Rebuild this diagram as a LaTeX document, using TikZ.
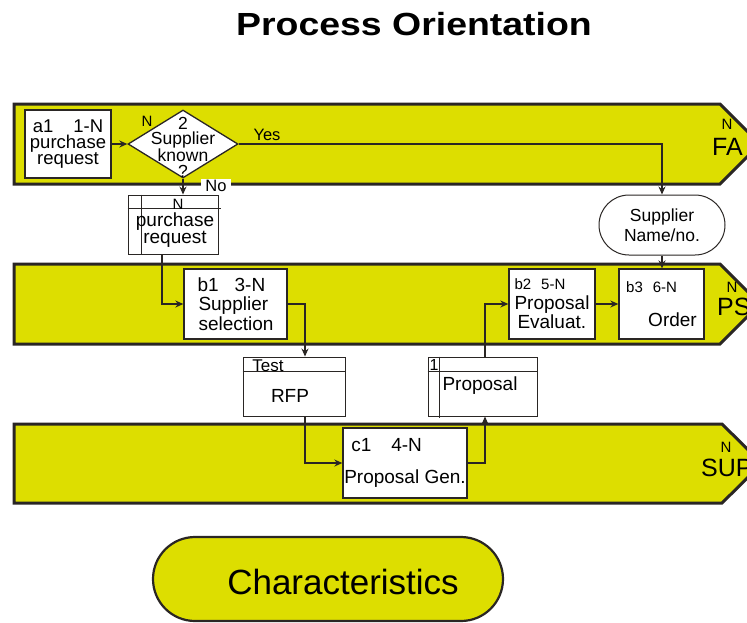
\documentclass[tikz,border=0pt]{standalone}
\usepackage{fontspec}
\setmainfont{Liberation Sans}
\newfontfamily\titlefont[FakeStretch=1.17]{Liberation Sans}
\usepackage{tikz}
\usetikzlibrary{shapes.geometric,shapes.misc,arrows.meta}
\definecolor{laneyellow}{RGB}{221,222,0}
\definecolor{edgegray}{RGB}{42,38,36}

\begin{document}
\begin{tikzpicture}[x=1pt,y=-1pt,
	lane/.style={fill=laneyellow,draw=edgegray,line width=3pt},
	func/.style={draw=edgegray,fill=white,line width=1.3pt,inner sep=0pt,align=center,font=\fontsize{19}{19.5}\selectfont},
	docbox/.style={draw=edgegray,fill=white,line width=0.9pt,inner sep=0pt},
	txt/.style={inner sep=0pt,align=center,font=\fontsize{19}{19.5}\selectfont},
	small/.style={inner sep=0pt,font=\fontsize{15}{16}\selectfont},
	lanename/.style={inner sep=0pt,anchor=west,font=\fontsize{25}{25}\selectfont},
	flow/.style={draw=edgegray,line width=1.4pt,-{Stealth[length=8pt,width=7pt]}}]

	\useasboundingbox (0,0) rectangle (747,622);
	\clip (0,0) rectangle (747,622);

	\node[inner sep=0pt,font={\fontsize{32}{34}\titlefont\bfseries}] (title) at (414,24) {Process Orientation};

	\draw[lane] (14,104) -- (720,104) -- (760,144) -- (720,184) -- (14,184) -- cycle;
	\draw[lane] (14,264) -- (720,264) -- (760,304) -- (720,344) -- (14,344) -- cycle;
	\draw[lane] (14,424) -- (722,424) -- (762,463.5) -- (722,503) -- (14,503) -- cycle;

	\node[small] (faN) at (727,124) {N};
	\node[lanename] (fa) at (712,147) {FA};
	\node[small] (psN) at (732,287) {N};
	\node[lanename] (ps) at (717,307) {PS};
	\node[small] (supN) at (726,447) {N};
	\node[lanename] (sup) at (701,468) {SUP};

	\node[func,minimum width=86,minimum height=68,font=\fontsize{18.5}{16}\selectfont] (a1) at (68,144) {a1\hspace{20pt}1-N\\purchase\\request};
	\node[diamond,draw=edgegray,fill=white,line width=1.3pt,inner sep=0pt,minimum width=110,minimum height=68] (dia) at (183,144) {};
	\node[txt,font=\fontsize{17.5}{15.3}\selectfont] (diatxt) at (183,147) {2\\Supplier\\known\\?};
	\node[small] (diaN) at (147,121) {N};

	\node[draw=edgegray,fill=white,line width=1pt,rounded rectangle,inner sep=0pt,minimum width=126,minimum height=60,txt,font=\fontsize{17.5}{20}\selectfont] (term) at (662,225) {Supplier\\Name/no.};

	\draw[flow] (a1.east) -- (dia.west);
	\draw[flow] (dia.east) -| (term.north);
	\node[small,font=\fontsize{16.5}{16}\selectfont] (yes) at (267,135) {Yes};

	\node[docbox,minimum width=90,minimum height=59] (prq) at (173,224.5) {};
	\draw[edgegray,line width=0.9pt] ([xshift=14pt]prq.north west) -- ([xshift=14pt]prq.south west);
	\draw[edgegray,line width=0.9pt] ([yshift=-14pt]prq.north west) -- ([yshift=-14pt,xshift=3pt]prq.north east);
	\node[small] (prqN) at (178,204) {N};
	\node[txt,font=\fontsize{19}{17}\selectfont] (prqtxt) at (175,230) {purchase\\request};

	\draw[flow] (dia.south) -- (dia.south |- prq.north);
	\node[fill=white,inner xsep=4pt,inner ysep=1.5pt,font=\fontsize{16.5}{16}\selectfont] (no) at (216,186) {No};

	\node[func,minimum width=103,minimum height=70,align=left] (b1) at (235.5,304) {b1\hspace{16pt}3-N\\\hspace*{1pt}Supplier\\\hspace*{1pt}selection};
	\draw[flow] ([xshift=-11pt]prq.south) |- (b1.west);

	\node[docbox,minimum width=102,minimum height=59] (rfp) at (294,386.5) {};
	\draw[edgegray,line width=0.9pt] ([yshift=-15pt]rfp.north west) -- ([yshift=-15pt]rfp.north east);
	\node[small,font=\fontsize{17}{16}\selectfont] (test) at (268,366) {Test};
	\node[txt] (rfptxt) at (290,396) {RFP};
	\draw[flow] (b1.east) -| ([xshift=11pt]rfp.north);

	\node[func,minimum width=124,minimum height=70,align=left] (c1) at (405,463) {\hspace*{7pt}c1\hspace{20pt}4-N\\[13pt]Proposal Gen.};
	\draw[flow] ([xshift=11pt]rfp.south) |- (c1.west);

	\node[docbox,minimum width=109,minimum height=59] (prop) at (482.5,386.5) {};
	\draw[edgegray,line width=0.9pt] ([xshift=12pt]prop.north west) -- ([xshift=12pt,yshift=-2pt]prop.south west);
	\draw[edgegray,line width=0.9pt] ([yshift=-15pt]prop.north west) -- ([yshift=-15pt]prop.north east);
	\node[small,font=\fontsize{16}{16}\selectfont] (propN) at (434,365) {1};
	\node[txt] (proptxt) at (480,386) {Proposal};
	\draw[flow] (c1.east) -| ([xshift=2.5pt]prop.south);

	\node[func,minimum width=86,minimum height=70,align=left] (b2) at (552,304) {{\fontsize{15}{16}\selectfont b2\hspace{10pt}5-N}\\Proposal\\\hspace*{3pt}Evaluat.};
	\draw[flow] ([xshift=2.5pt]prop.north) |- (b2.west);

	\node[func,minimum width=85,minimum height=70,align=left] (b3) at (661.5,304) {{\fontsize{15}{16}\selectfont b3\hspace{10pt}6-N}\\[14pt]\hspace*{22pt}Order};
	\draw[flow] (b2.east) -- (b3.west);
	\draw[flow] (term.south) -- (term.south |- b3.north);

	\node[rounded rectangle,draw=edgegray,fill=laneyellow,line width=2.2pt,inner sep=0pt,minimum width=350,minimum height=84] (chars) at (328,579) {};
	\node[inner sep=0pt,font=\fontsize{35}{35}\selectfont] (charstxt) at (343,582) {Characteristics};

\end{tikzpicture}
\end{document}
